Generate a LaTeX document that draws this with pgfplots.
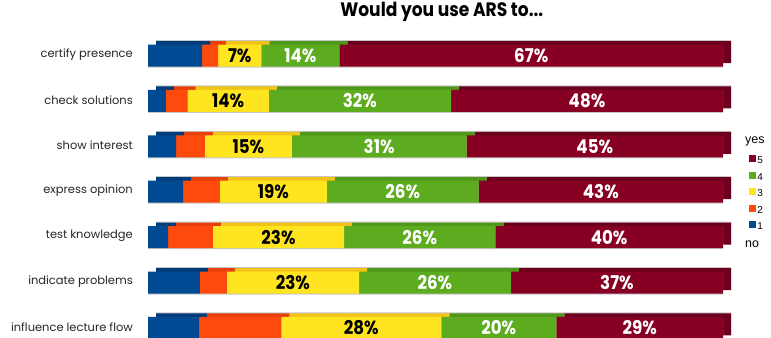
\documentclass[border=0pt]{standalone}
\usepackage{pgfplots}
\pgfplotsset{compat=1.18}
\usepackage{pgfplotstable}
\usepackage{fontspec}
\setmainfont{Poppins}
\newfontfamily\pctfont{Poppins}[FakeStretch=0.88]
\newfontfamily\legfont{Liberation Sans}

\definecolor{c1}{HTML}{004A94}
\definecolor{c2}{HTML}{FF4A0D}
\definecolor{c3}{HTML}{FFE51F}
\definecolor{c4}{HTML}{5DAB1E}
\definecolor{c5}{HTML}{870024}
\definecolor{d1}{HTML}{003C7A}
\definecolor{d2}{HTML}{E8400A}
\definecolor{d3}{HTML}{F2C417}
\definecolor{d4}{HTML}{4F981A}
\definecolor{d5}{HTML}{6A001E}

\pgfplotstableread{
row b o y g r ly lg lr tot
0 9.4 2.8 7.5 13.6 66.7 7 14 67 100
1 3.1 3.8 14.1 31.7 47.3 14 32 48 100
2 4.9 5.0 15.1 30.4 44.6 15 31 45 100
3 6.1 6.4 18.6 26.4 42.5 19 26 43 100
4 3.5 7.8 22.8 26.3 39.6 23 26 40 100
5 9.0 4.7 23.0 26.4 36.9 23 26 37 100
6 8.9 14.3 27.8 20.0 29.0 28 20 29 100
}\data

\pgfplotsset{base/.style={
  scale only axis, width=575bp, height=317.8bp,
  xmin=0, xmax=100, ymin=-0.5, ymax=6.5, y dir=reverse,
  axis line style={draw=none}, major tick length=0pt,
  xtick=\empty, ytick=\empty, clip=false,
  anchor=south west,
},
pct/.style={forget plot, draw=none, mark=none, nodes near coords={\pgfplotspointmeta\%}, point meta=explicit symbolic,
  every node near coord/.append style={anchor=center, inner sep=0pt, text=#1, font=\pctfont\bfseries\fontsize{19}{20}\selectfont}},
}

\begin{document}
\begin{tikzpicture}
% thin grey edge above the top faces
\begin{axis}[base, at={(156bp,-8.1bp)}, xbar, bar width=22bp]
\addplot[draw=none, fill=black!22] table[x=tot, y=row] {\data};
\end{axis}
% depth (top and side faces)
\begin{axis}[base, at={(156bp,-9.1bp)}, xbar stacked, bar width=22bp]
\addplot[draw=none, fill=d1] table[x=b, y=row] {\data};
\addplot[draw=none, fill=d2] table[x=o, y=row] {\data};
\addplot[draw=none, fill=d3] table[x=y, y=row] {\data};
\addplot[draw=none, fill=d4] table[x=g, y=row] {\data};
\addplot[draw=none, fill=d5] table[x=r, y=row] {\data};
\end{axis}
% thin grey edge below the front faces
\begin{axis}[base, at={(148bp,-13.6bp)}, xbar, bar width=22bp]
\addplot[draw=none, fill=black!22] table[x=tot, y=row] {\data};
\end{axis}
% front faces
\begin{axis}[base, at={(148bp,-12.6bp)}, xbar stacked, bar width=22bp,
  ytick={0,...,6},
  yticklabels={certify presence, check solutions, show interest, express opinion, test knowledge, indicate problems, influence lecture flow},
  yticklabel style={inner sep=0pt, xshift=-15bp, yshift=1bp, font=\fontsize{11.5}{13}\selectfont, text=black!85},
]
\addplot[draw=none, fill=c1] table[x=b, y=row] {\data};
\addplot[draw=none, fill=c2] table[x=o, y=row] {\data};
\addplot[draw=none, fill=c3] table[x=y, y=row] {\data};
\addplot[draw=none, fill=c4] table[x=g, y=row] {\data};
\addplot[draw=none, fill=c5] table[x=r, y=row] {\data};
\end{axis}
% labels, title, legend
\begin{axis}[base, at={(148bp,-12.6bp)},
  title={Would you use ARS to...},
  title style={at={(axis description cs:0.511,1)}, anchor=center, yshift=15bp, font=\pctfont\bfseries\fontsize{19.5}{21}\selectfont},
  legend style={at={(axis description cs:1.0457,0.6155)}, anchor=north west, draw=none, fill=none,
    inner sep=0pt, row sep=5.8bp, column sep=1.5bp,
    nodes={inner sep=0pt, text height=7bp, text depth=2bp},
    font=\legfont\fontsize{10}{12}\selectfont},
  legend cell align=left,
]
\addplot[pct=black] table[x expr=\thisrow{b}+\thisrow{o}+0.5*\thisrow{y}, y=row, meta=ly] {\data};
\addplot[pct=white] table[x expr=\thisrow{b}+\thisrow{o}+\thisrow{y}+0.5*\thisrow{g}, y=row, meta=lg] {\data};
\addplot[pct=white] table[x expr=\thisrow{b}+\thisrow{o}+\thisrow{y}+\thisrow{g}+0.5*\thisrow{r}, y=row, meta=lr] {\data};
\addlegendimage{legend image code/.code={\fill[c5] (0bp,0bp) rectangle (6bp,6bp);}}
\addlegendentry{5}
\addlegendimage{legend image code/.code={\fill[c4] (0bp,0bp) rectangle (6bp,6bp);}}
\addlegendentry{4}
\addlegendimage{legend image code/.code={\fill[c3] (0bp,0bp) rectangle (6bp,6bp);}}
\addlegendentry{3}
\addlegendimage{legend image code/.code={\fill[c2] (0bp,0bp) rectangle (6bp,6bp);}}
\addlegendentry{2}
\addlegendimage{legend image code/.code={\fill[c1] (0bp,0bp) rectangle (6bp,6bp);}}
\addlegendentry{1}
\node[anchor=west, inner sep=0pt, font=\legfont\fontsize{12.5}{13}\selectfont] at (axis description cs:1.0383,0.659) {yes};
\node[anchor=west, inner sep=0pt, font=\legfont\fontsize{12.5}{13}\selectfont] at (axis description cs:1.0383,0.3354) {no};
\end{axis}
\pgfresetboundingbox
\useasboundingbox (0,0) rectangle (771bp,338bp);
\end{tikzpicture}
\end{document}
